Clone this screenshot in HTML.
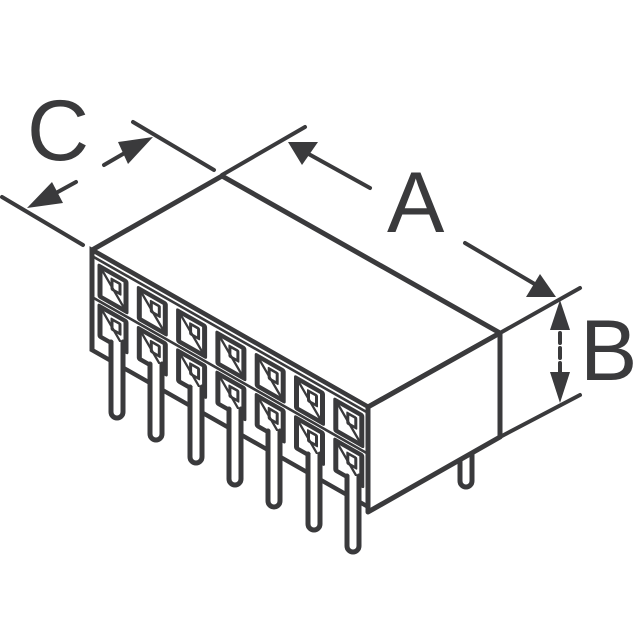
<!DOCTYPE html>
<html><head><style>html,body{margin:0;padding:0;background:#fff}svg{display:block}</style></head>
<body>
<svg width="640" height="640" viewBox="0 0 640 640" xmlns="http://www.w3.org/2000/svg">
<defs>
<g id="col" fill="none" stroke="#3a3a3c" stroke-width="5" stroke-linejoin="round">
  <rect x="8" y="12" width="26" height="30"/>
  <line x1="8" y1="12" x2="34" y2="42" stroke-width="3"/>
  <rect x="20" y="18" width="8" height="10" stroke-width="3"/>
  <rect x="8" y="52" width="26" height="30"/>
  <line x1="8" y1="52" x2="34" y2="82" stroke-width="3"/>
  <rect x="20" y="58" width="8" height="10" stroke-width="3"/>
</g>
<g id="pin" fill="#fff" stroke="#3a3a3c" stroke-width="5">
  <path d="M0,0 V70 a6,6 0 0 0 12,0 V0"/>
</g>
</defs>
<g stroke="#3a3a3c" stroke-linecap="round" fill="none">
  <path d="M460,450 V481 a6,6 0 0 0 12,0 V450" fill="#fff" stroke-width="5"/>
  <!-- body -->
  <path d="M92,250 L222,176 L500,333 L368,407 Z" fill="#fff" stroke-width="5" stroke-linejoin="round"/>
  <path d="M368,407 L500,333 L500,437 L368,512 Z" fill="#fff" stroke-width="5" stroke-linejoin="round"/>
  <g transform="translate(92,250) skewY(29.6)">
    <rect x="0" y="0" width="276" height="100" fill="#fff" stroke-width="5"/>
    <line x1="3" y1="6" x2="273" y2="6" stroke-width="3"/>
    <line x1="3" y1="47" x2="273" y2="47" stroke-width="3"/>
    <use href="#col" x="0"/>
    <use href="#col" x="39.3"/>
    <use href="#col" x="78.6"/>
    <use href="#col" x="117.9"/>
    <use href="#col" x="157.2"/>
    <use href="#col" x="196.5"/>
    <use href="#col" x="235.8"/>
  </g>
  <!-- pins -->
  <use href="#pin" x="111" y="342"/>
  <use href="#pin" x="150" y="364"/>
  <use href="#pin" x="190" y="387"/>
  <use href="#pin" x="229" y="409"/>
  <use href="#pin" x="268" y="431"/>
  <use href="#pin" x="308" y="454"/>
  <use href="#pin" x="347" y="476"/>
  <!-- dimension lines -->
  <g stroke-width="4">
    <line x1="2" y1="197" x2="83" y2="245"/>
    <line x1="133" y1="122" x2="214" y2="170"/>
    <line x1="222" y1="175" x2="305" y2="127"/>
    <line x1="500" y1="333" x2="580" y2="288"/>
    <line x1="500" y1="437" x2="580" y2="395"/>
    <line x1="104" y1="165" x2="135" y2="147"/>
    <line x1="76" y1="182" x2="45" y2="199"/>
    <line x1="370" y1="188" x2="305" y2="152"/>
    <line x1="465" y1="243" x2="538" y2="286"/>
    <line x1="560" y1="318" x2="560" y2="386" stroke-dasharray="10,5"/>
  </g>
  <g fill="#3a3a3c" stroke="none">
    <polygon points="153,137 128,164 118,142"/>
    <polygon points="27,208 52,182 63,203"/>
    <polygon points="288,142 318,142 302,165"/>
    <polygon points="556,297 526,297 540,274"/>
    <polygon points="560,300 550,330 570,330"/>
    <polygon points="560,403 550,372 570,372"/>
  </g>
</g>
<g fill="#3a3a3c" font-family="Liberation Sans, sans-serif" font-size="86">
  <text x="27" y="160">C</text>
  <text x="387" y="232">A</text>
  <text x="580" y="380">B</text>
</g>
</svg>
</body></html>
